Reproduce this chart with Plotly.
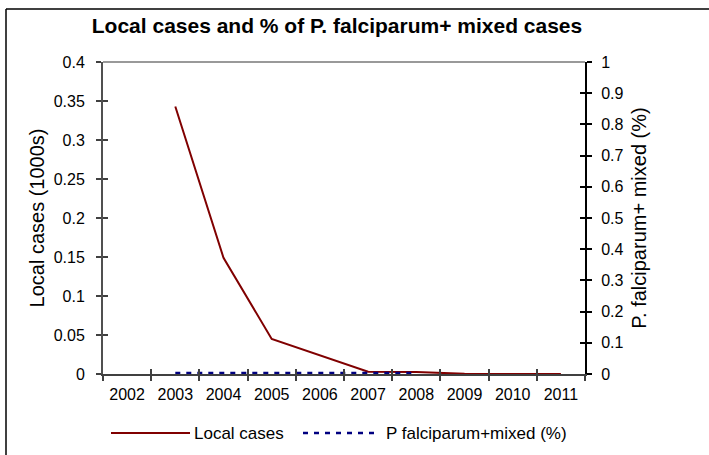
import plotly.graph_objects as go

years = ["2002", "2003", "2004", "2005", "2006", "2007", "2008", "2009", "2010", "2011"]
local_cases = [None, 0.343, 0.149, 0.045, 0.024, 0.003, 0.0025, 0.0003, 0.0, 0.0]
pf_mixed = [None, 0.003, 0.003, 0.003, 0.003, 0.003, 0.003, None, None, None]

W, H = 709, 455
L, R, T, B = 103, 585, 62, 374
pw, ph = R - L, B - T

def px(x):
    return (x - L) / pw

def py(y):
    return (B - y) / ph

FONT = "Liberation Sans, Arial, sans-serif"
RED = "#800000"
BLUE = "#000080"

fig = go.Figure()
fig.add_trace(go.Scatter(x=years, y=local_cases, mode="lines", name="Local cases",
                         line=dict(color=RED, width=2), xaxis="x", yaxis="y", cliponaxis=False))
fig.add_trace(go.Scatter(x=years, y=pf_mixed, mode="lines", name="P falciparum+mixed (%)",
                         line=dict(color=BLUE, width=2.5, dash="5px,6px"), xaxis="x", yaxis="y2",
                         cliponaxis=False))
# empty helper traces so the inward-tick overlay axes get drawn (cross-style ticks)
fig.add_trace(go.Scatter(x=[None], y=[None], xaxis="x2", yaxis="y3", showlegend=False,
                         hoverinfo="skip"))
fig.add_trace(go.Scatter(x=[None], y=[None], xaxis="x2", yaxis="y4", showlegend=False,
                         hoverinfo="skip"))

shapes = [
    # outer chart border: only top and left edges fall inside the picture
    dict(type="line", xref="paper", yref="paper", x0=px(6), x1=px(720), y0=py(9), y1=py(9),
         line=dict(color="black", width=1.5)),
    dict(type="line", xref="paper", yref="paper", x0=px(6), x1=px(6), y0=py(9), y1=py(470),
         line=dict(color="black", width=1.5)),
    # top plot edge gray line
    dict(type="line", xref="paper", yref="paper", x0=0, x1=1, y0=1, y1=1,
         line=dict(color="#999999", width=2)),
    # legend symbols
    dict(type="line", xref="paper", yref="paper", x0=px(111), x1=px(190), y0=py(433), y1=py(433),
         line=dict(color=RED, width=2)),
    dict(type="line", xref="paper", yref="paper", x0=px(303), x1=px(378), y0=py(433), y1=py(433),
         line=dict(color=BLUE, width=2.5, dash="5px,6px")),
]

annotations = [
    dict(text="Local cases", xref="paper", yref="paper", x=px(192), y=py(433), xanchor="left",
         yanchor="middle", showarrow=False, font=dict(family=FONT, size=17, color="black")),
    dict(text="P falciparum+mixed (%)", xref="paper", yref="paper", x=px(384), y=py(433),
         xanchor="left", yanchor="middle", showarrow=False,
         font=dict(family=FONT, size=17, color="black")),
]

fig.update_layout(
    width=W, height=H,
    margin=dict(l=L, r=W - R, t=T, b=H - B, pad=0),
    paper_bgcolor="white", plot_bgcolor="rgba(0,0,0,0)",
    showlegend=False,
    font=dict(family=FONT, size=16, color="black"),
    title=dict(text="<b>Local cases and % of P. falciparum+ mixed cases</b>",
               x=px(337), xref="paper", xanchor="center", y=1 - 26 / H, yanchor="middle",
               font=dict(family=FONT, size=21, color="black")),
    xaxis=dict(type="category", range=[-0.5, 9.5], tickson="boundaries", ticks="outside",
               ticklen=5, tickwidth=1.5, tickcolor="#404040", showline=True, linecolor="#404040",
               linewidth=2, showgrid=False, zeroline=False, tickfont=dict(size=16),
               ticklabelstandoff=5),
    xaxis2=dict(type="linear", overlaying="x", range=[-0.5, 9.5], tickmode="array",
                tickvals=[i - 0.5 for i in range(11)], ticks="inside", ticklen=5, tickwidth=1.5,
                tickcolor="#404040", showticklabels=False, showline=False, showgrid=False,
                zeroline=False, anchor="y3", side="bottom"),
    yaxis=dict(range=[0, 0.4], dtick=0.05, tick0=0, ticks="outside", ticklen=5, tickwidth=1.5,
               tickcolor="#404040", showline=True, linecolor="#505050", linewidth=2,
               showgrid=False, zeroline=False, tickfont=dict(size=16), ticklabelstandoff=8,
               title=dict(text="Local cases (1000s)", font=dict(size=20), standoff=4)),
    yaxis3=dict(range=[0, 0.4], dtick=0.05, tick0=0, ticks="inside", ticklen=5, tickwidth=1.5,
                tickcolor="#404040", showticklabels=False, showline=False, showgrid=False,
                zeroline=False, overlaying="y", side="left", anchor="x2"),
    yaxis2=dict(range=[0, 1], dtick=0.1, tick0=0, ticks="outside", ticklen=5, tickwidth=1.5,
                tickcolor="black", showline=True, linecolor="black", linewidth=2,
                showgrid=False, zeroline=False, overlaying="y", side="right", anchor="x",
                tickfont=dict(size=16), ticklabelstandoff=6,
                title=dict(text="P. falciparum+ mixed (%)", font=dict(size=20), standoff=9)),
    yaxis4=dict(range=[0, 1], dtick=0.1, tick0=0, ticks="inside", ticklen=5, tickwidth=1.5,
                tickcolor="black", showticklabels=False, showline=False, showgrid=False,
                zeroline=False, overlaying="y", side="right", anchor="x2"),
    shapes=shapes,
    annotations=annotations,
)

fig.write_html("out.html", config={"displayModeBar": False},
               post_script="document.body.style.margin='0';document.body.style.overflow='hidden';")
